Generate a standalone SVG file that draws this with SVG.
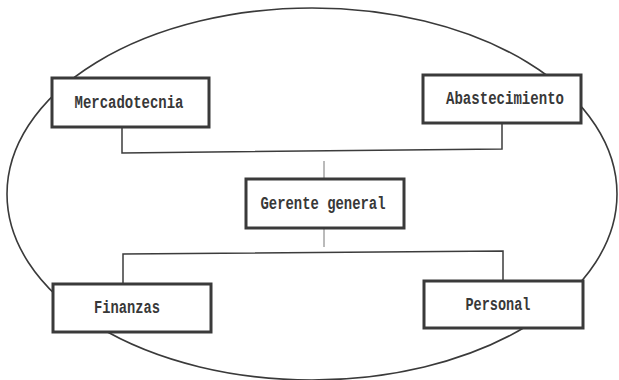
<svg xmlns="http://www.w3.org/2000/svg" width="619" height="380" viewBox="0 0 619 380">
<style>
.box{fill:#fff;stroke:#3a3a3a;stroke-width:3}
.lbl{font-family:"Liberation Mono","DejaVu Sans Mono",monospace;font-weight:bold;font-size:18px;fill:#383838;text-anchor:middle}
.con{fill:none;stroke:#3c3c3c;stroke-width:1.5}
.thin{fill:none;stroke:#777;stroke-width:1}
</style>
<rect width="619" height="380" fill="#fff"/>
<ellipse cx="312" cy="194" rx="305" ry="186" fill="none" stroke="#3a3a3a" stroke-width="1.6"/>
<g id="connectors">
<polyline class="con" points="122,128 122,153 502,149 502,123"/>
<line class="thin" x1="324" y1="161" x2="324" y2="178"/>
<line class="thin" x1="324" y1="228" x2="324" y2="247"/>
<polyline class="con" points="123,283 123,254 503,251 503,280"/>
</g>
<g id="mercadotecnia">
<rect class="box" x="52" y="78" width="157" height="49"/>
<text class="lbl" x="129" y="108" textLength="109" lengthAdjust="spacingAndGlyphs">Mercadotecnia</text>
</g>
<g id="abastecimiento">
<rect class="box" x="423" y="75" width="158" height="48"/>
<text class="lbl" x="505" y="104" textLength="118" lengthAdjust="spacingAndGlyphs">Abastecimiento</text>
</g>
<g id="gerente">
<rect class="box" x="246" y="179" width="158" height="49"/>
<text class="lbl" x="323" y="209" textLength="125" lengthAdjust="spacingAndGlyphs">Gerente general</text>
</g>
<g id="finanzas">
<rect class="box" x="53" y="284" width="158" height="48"/>
<text class="lbl" x="127" y="313" textLength="66" lengthAdjust="spacingAndGlyphs">Finanzas</text>
</g>
<g id="personal">
<rect class="box" x="424" y="281" width="159" height="47"/>
<text class="lbl" x="498" y="310" textLength="65" lengthAdjust="spacingAndGlyphs">Personal</text>
</g>
</svg>
